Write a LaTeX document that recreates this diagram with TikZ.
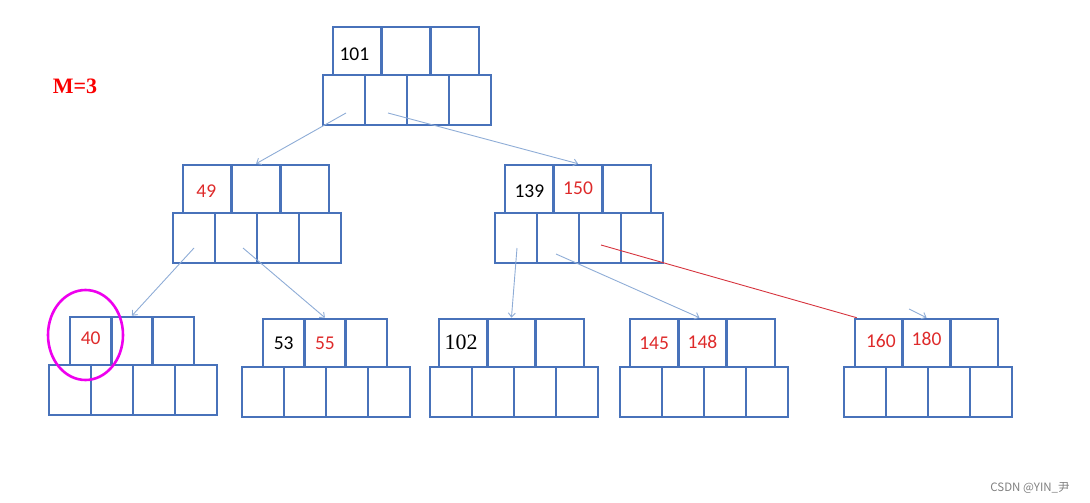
\documentclass[tikz,border=0pt]{standalone}
\usepackage{fontspec}
\setmainfont{Carlito}
\newfontfamily\numserif{Liberation Serif}
\newfontfamily\cjk{Noto Sans CJK SC}
\usetikzlibrary{arrows.meta,positioning}
\definecolor{boxblue}{RGB}{72,114,186}
\definecolor{keyred}{RGB}{222,42,42}
\definecolor{ptrblue}{RGB}{142,172,214}
\definecolor{linkred}{RGB}{214,52,62}
\definecolor{hilite}{RGB}{238,0,238}
\definecolor{mark}{RGB}{250,0,0}
\tikzset{
  key/.style={draw=boxblue,line width=2.6pt,minimum height=48pt,inner sep=0pt},
  child/.style={draw=boxblue,line width=2.6pt,minimum width=42pt,minimum height=50pt,inner sep=0pt},
  num/.style={font=\fontsize{19.5}{21}\selectfont,inner sep=0pt},
  rnum/.style={num,text=keyred},
  ptr/.style={draw=ptrblue,line width=0.9pt,-{Straight Barb[length=4pt,width=7pt]}},
}
\begin{document}
\begin{tikzpicture}[x=1pt,y=-1pt]
  \useasboundingbox (0,0) rectangle (1090,503);
  % the tree nodes: name / key row left / key row top / key width / child row left
  \foreach \n/\kx/\ky/\kw/\cx in {r/333/27/48.7/323, ml/183/165/48.7/173, mr/505/165/48.7/495,
      l1/70/317/41.3/49, l2/263/319/41.3/242, l3/439/319/48.3/430, l4/630/319/48.3/620, l5/855/319/47.7/844}
  {
    \foreach \i in {1,2,3}
      \node[key,minimum width=\kw pt] (\n-k\i) at ({\kx+(\i-0.5)*\kw},{\ky+24}) {};
    \foreach \i in {1,...,4}
      \node[child] (\n-c\i) at ({\cx+(\i-0.5)*42},{\ky+73}) {};
  }
  % keys
  \node[num] (t101) at ([xshift=-3pt,yshift=-3pt]r-k1) {101};
  \node[rnum] (t49) at ([xshift=-1pt,yshift=-2pt]ml-k1) {49};
  \node[num] (t139) at ([yshift=-2pt]mr-k1) {139};
  \node[rnum] (t150) at ([yshift=1pt]mr-k2) {150};
  \node[rnum] (t40) at ([yshift=3pt]l1-k1) {40};
  \node[num] (t53) at (l2-k1) {53};
  \node[rnum] (t55) at (l2-k2) {55};
  \node[font=\numserif\fontsize{22}{24}\selectfont,inner sep=0pt] (t102) at ([xshift=-2pt,yshift=1pt]l3-k1) {102};
  \node[rnum] (t145) at (l4-k1) {145};
  \node[rnum] (t148) at ([yshift=1pt]l4-k2) {148};
  \node[rnum] (t160) at ([xshift=2pt,yshift=2pt]l5-k1) {160};
  \node[rnum] (t180) at ([yshift=4pt]l5-k2) {180};
  % pointers
  \draw[ptr] ([shift={(2,13)}]r-c1.center) -- (ml-k2.north);
  \draw[ptr] ([shift={(2,13)}]r-c2.center) -- (mr-k2.north);
  \draw[ptr] ([shift={(0,10)}]ml-c1.center) -- (l1-k2.north);
  \draw[ptr] ([shift={(7,10)}]ml-c2.center) -- (l2-k2.north);
  \draw[ptr] ([shift={(1,10)}]mr-c1.center) -- (l3-k2.north);
  \draw[ptr] ([shift={(-2,16)}]mr-c2.center) -- ([xshift=-3pt]l4-k2.north);
  \coordinate (stub) at (909,309);
  \draw[ptr] (stub) -- (l5-k2.north);
  \draw[linkred,line width=0.9pt] ([shift={(1,7)}]mr-c3.center) -- ([xshift=3pt]l5-k1.north west);
  % highlight
  \draw[hilite,line width=2.6pt] (85.5,335) ellipse [x radius=37.5, y radius=45];
  \node[text=mark,font=\numserif\bfseries\fontsize{22}{24}\selectfont] (order) at (75,86) {M=3};
  \node[text=black!50,font=\cjk\fontsize{11.5}{13}\selectfont] (credit) at (1030,488) {CSDN @YIN\_尹};
\end{tikzpicture}
\end{document}
